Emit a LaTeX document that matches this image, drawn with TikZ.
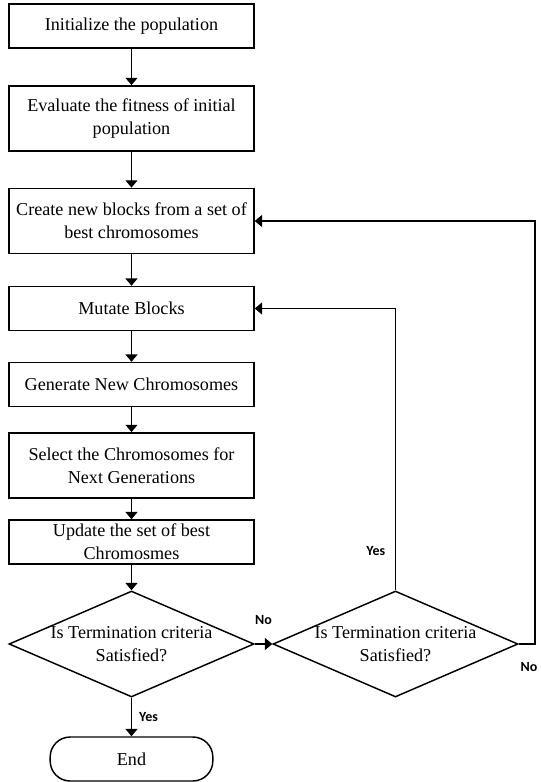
\documentclass[tikz,border=0pt]{standalone}
\usepackage{fontspec}
\setmainfont{Liberation Serif}
\newfontfamily\labelfont{Carlito}
\usetikzlibrary{shapes.geometric, arrows.meta}

\begin{document}
\begin{tikzpicture}[x=0.75pt, y=-0.75pt,
	every node/.style={font=\fontsize{13.6}{17}\selectfont},
	procbox/.style={draw, line width=1.1pt, minimum width=183.75pt, minimum height=33pt, inner sep=0pt, align=center},
	tallbox/.style={procbox, minimum height=49pt},
	decision/.style={draw, diamond, line width=1.1pt, minimum width=183.75pt, minimum height=79.5pt, inner sep=0pt},
	endbox/.style={draw, line width=1.1pt, rounded corners=15pt, minimum width=122pt, minimum height=33pt},
	flow/.style={line width=0.85pt, -{Triangle[length=5.5pt,width=9pt]}},
	yesno/.style={font=\labelfont\bfseries\fontsize{10.5}{12}\selectfont}]

	\useasboundingbox (0,0) rectangle (540,782);

	% main column
	\node[procbox] (init) at (131.5,26) {Initialize the population};
	\node[tallbox] (eval) at (131.5,118.5) {Evaluate the fitness of initial\\population};
	\node[tallbox] (create) at (131.5,221) {Create new blocks from a set of\\best chromosomes};
	\node[procbox] (mutate) at (131.5,308.5) {Mutate Blocks};
	\node[procbox] (generate) at (131.5,384.5) {Generate New Chromosomes};
	\node[tallbox] (select) at (131.5,465.5) {Select the Chromosomes for\\Next Generations};
	\node[procbox] (update) at (131.5,542) {Update the set of best\\Chromosmes};

	\node[decision, label={[align=center]center:Is Termination criteria\\Satisfied?}] (check1) at (131.5,644) {};
	\node[decision, label={[align=center]center:Is Termination criteria\\Satisfied?}] (check2) at (395.5,644) {};
	\node[endbox] (stop) at (131.5,759) {End};
	\coordinate (loop) at (535,644);

	\draw[flow] (init) -- (eval);
	\draw[flow] (eval) -- (create);
	\draw[flow] (create) -- (mutate);
	\draw[flow] (mutate) -- (generate);
	\draw[flow] (generate) -- (select);
	\draw[flow] (select) -- (update);
	\draw[flow] (update) -- (check1);
	\draw[flow] (check1) -- node[yesno, right=2pt] {Yes} (stop);
	\draw[flow] (check1) -- node[yesno, above=11pt] {No} (check2);

	% feedback loops
	\draw[flow] (check2) |- node[yesno, left=4pt, pos=0.07] {Yes} (mutate);
	\draw[flow] (check2) -- (loop) node[yesno, below=10pt, xshift=-4.5pt] {No} |- (create);

\end{tikzpicture}
\end{document}
